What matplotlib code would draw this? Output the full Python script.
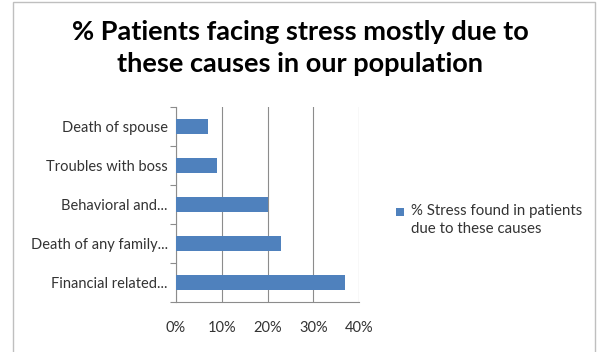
import matplotlib
matplotlib.use('Agg')
import matplotlib.pyplot as plt
from matplotlib.patches import Rectangle
import numpy as np

# bottom to top, as drawn
CAUSES = ['Financial related...', 'Death of any family...', 'Behavioral and...',
          'Troubles with boss', 'Death of spouse']
STRESS_PCT = [37, 23, 20, 9, 7]
X_TICKS = [0, 10, 20, 30, 40]
SERIES_NAME = '% Stress found in patients\ndue to these causes'
TITLE = '% Patients facing stress mostly due to\nthese causes in our population'

BAR_COLOR = '#4F81BD'
GRID_COLOR = '#8C8C8C'
TEXT_COLOR = '#333333'

plt.rcParams['font.family'] = ['Lato', 'DejaVu Sans']

fig = plt.figure(figsize=(5.97, 3.52), dpi=100)
fig.patch.set_facecolor('white')

# chart area border
fig.add_artist(Rectangle((13 / 597, -0.01), 582 / 597, 1 - 2 / 352 + 0.01,
                         transform=fig.transFigure, fill=False,
                         edgecolor='#BFBFBF', linewidth=1.0))

ax = fig.add_axes([176 / 597, 1 - 302 / 352, 183 / 597, 195 / 352])

y = np.arange(len(CAUSES))
ax.barh(y, STRESS_PCT, height=0.4, color=BAR_COLOR, zorder=3)

ax.set_xlim(0, 40)
ax.set_ylim(-0.5, len(CAUSES) - 0.5)
ax.set_xticks(X_TICKS)
ax.set_xticklabels([f'{v}%' for v in X_TICKS], fontsize=10.5, color=TEXT_COLOR)
ax.set_yticks(y)
ax.set_yticklabels(CAUSES, fontsize=10.5, color=TEXT_COLOR)
ax.set_yticks(np.arange(-0.5, len(CAUSES), 1), minor=True)

ax.tick_params(axis='y', which='major', length=0, pad=6)
ax.tick_params(axis='y', which='minor', length=4, width=0.8, color=GRID_COLOR)
ax.tick_params(axis='x', length=0, pad=14)

ax.grid(axis='x', color=GRID_COLOR, linewidth=0.8, zorder=0)
for side in ['top', 'right']:
    ax.spines[side].set_visible(False)
for side in ['left', 'bottom']:
    ax.spines[side].set_color(GRID_COLOR)
    ax.spines[side].set_linewidth(0.8)

fig.text(0.503, 1 - 48 / 352, TITLE, ha='center', va='center', fontsize=19.5,
         fontweight='bold', color='black', linespacing=1.42)

# legend
fig.add_artist(Rectangle((396 / 597, 1 - 216 / 352), 8 / 597, 8 / 352,
                         transform=fig.transFigure, facecolor=BAR_COLOR,
                         edgecolor='none'))
fig.text(411 / 597, 1 - 204 / 352, SERIES_NAME, ha='left', va='top',
         fontsize=10.8, color=TEXT_COLOR, linespacing=1.35)

fig.savefig('out.png', dpi=100)
